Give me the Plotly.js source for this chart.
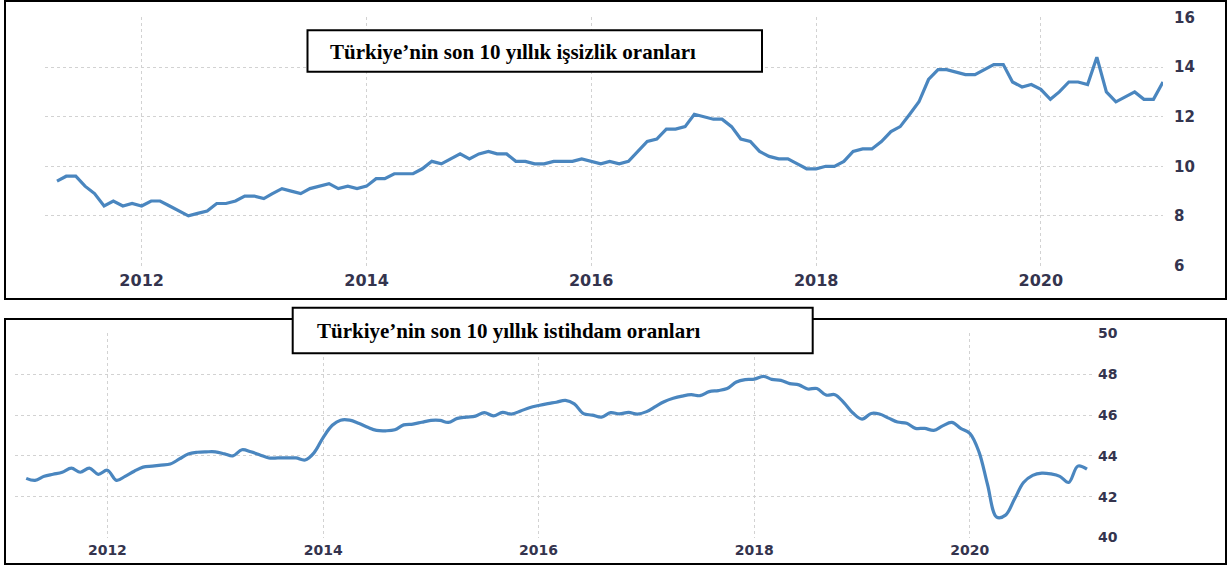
<!DOCTYPE html>
<html>
<head>
<meta charset="utf-8">
<script src="https://cdn.plot.ly/plotly-3.0.1.min.js"></script>
<style>html,body{margin:0;padding:0;background:#fff;}#chart{width:1230px;height:568px;}</style>
</head>
<body>
<div id="chart"></div>
<script>
// ---- data (monthly, Apr 2011 – Feb 2021) ----
const startYear = 2011, startMonth = 4; // April 2011
const unemployment = [
  9.4, 9.6, 9.6, 9.2, 8.9, 8.4, 8.6, 8.4, 8.5,
  8.4, 8.6, 8.6, 8.4, 8.2, 8.0, 8.1, 8.2, 8.5, 8.5, 8.6, 8.8,
  8.8, 8.7, 8.9, 9.1, 9.0, 8.9, 9.1, 9.2, 9.3, 9.1, 9.2, 9.1,
  9.2, 9.5, 9.5, 9.7, 9.7, 9.7, 9.9, 10.2, 10.1, 10.3, 10.5, 10.3,
  10.5, 10.6, 10.5, 10.5, 10.2, 10.2, 10.1, 10.1, 10.2, 10.2, 10.2, 10.3,
  10.2, 10.1, 10.2, 10.1, 10.2, 10.6, 11.0, 11.1, 11.5, 11.5, 11.6, 12.1,
  12.0, 11.9, 11.9, 11.6, 11.1, 11.0, 10.6, 10.4, 10.3, 10.3, 10.1, 9.9,
  9.9, 10.0, 10.0, 10.2, 10.6, 10.7, 10.7, 11.0, 11.4, 11.6, 12.1, 12.6,
  13.5, 13.9, 13.9, 13.8, 13.7, 13.7, 13.9, 14.1, 14.1, 13.4, 13.2, 13.3,
  13.1, 12.7, 13.0, 13.4, 13.4, 13.3, 14.4, 13.0, 12.6, 12.8, 13.0, 12.7,
  12.7, 13.4
];
const employment = [
  42.9, 42.8, 43.0, 43.1, 43.2, 43.4, 43.2, 43.4, 43.1,
  43.3, 42.8, 43.0, 43.25, 43.45, 43.5, 43.55, 43.6, 43.85, 44.1, 44.18, 44.2,
  44.2, 44.1, 44.0, 44.3, 44.2, 44.05, 43.9, 43.9, 43.9, 43.9, 43.8, 44.15,
  44.9, 45.5, 45.75, 45.75, 45.6, 45.4, 45.25, 45.23, 45.28, 45.52, 45.56, 45.65,
  45.74, 45.74, 45.64, 45.84, 45.9, 45.95, 46.12, 45.96, 46.13, 46.05, 46.2, 46.36,
  46.47, 46.56, 46.63, 46.72, 46.55, 46.07, 46.0, 45.9, 46.12, 46.06, 46.13, 46.05,
  46.17, 46.43, 46.65, 46.82, 46.93, 47.0, 46.95, 47.15, 47.2, 47.3, 47.62, 47.74,
  47.76, 47.9, 47.75, 47.7, 47.54, 47.48, 47.28, 47.3, 46.98, 47.0, 46.6, 46.1,
  45.8, 46.08, 46.05, 45.85, 45.66, 45.6, 45.35, 45.35, 45.25, 45.47, 45.64, 45.35,
  45.1, 44.2, 42.6, 41.0, 41.1, 41.9, 42.7, 43.05, 43.16, 43.12, 43.0, 42.7,
  43.5, 43.35
];
const yearTickVals = ['2012-01-01', '2014-01-01', '2016-01-01', '2018-01-01', '2020-01-01'];
const yearTickText = ['2012', '2014', '2016', '2018', '2020'];
const titleTop = 'Türkiye’nin son 10 yıllık işsizlik oranları';
const titleBottom = 'Türkiye’nin son 10 yıllık istihdam oranları';

function monthDates(n) {
  const out = [];
  for (let i = 0; i < n; i++) {
    const m = startMonth - 1 + i;
    const y = startYear + Math.floor(m / 12);
    const mm = (m % 12) + 1;
    out.push(y + '-' + (mm < 10 ? '0' : '') + mm + '-01');
  }
  return out;
}
const dates1 = monthDates(unemployment.length);
const dates2 = monthDates(employment.length);

// ---- layout helpers (pixels -> paper) ----
const W = 1230, H = 568;
const px = v => v / W;
const py = v => 1 - v / H;

const lineColor = '#4a86bf';
const gridColor = '#d2d2d2';
const tickColor = '#34344e';
const tickFamily = 'DejaVu Sans, Verdana, sans-serif';

const data = [
  { x: dates1, y: unemployment, type: 'scatter', mode: 'lines', xaxis: 'x', yaxis: 'y',
    line: { color: lineColor, width: 3.2, shape: 'linear' }, hoverinfo: 'x+y' },
  { x: dates2, y: employment, type: 'scatter', mode: 'lines', xaxis: 'x2', yaxis: 'y2',
    line: { color: lineColor, width: 3.2, shape: 'spline', smoothing: 1 }, hoverinfo: 'x+y' }
];

function xAxis(domain, range, anchor, size, standoff) {
  return {
    type: 'date', domain: domain, range: range, anchor: anchor,
    tickmode: 'array', tickvals: yearTickVals, ticktext: yearTickText,
    showgrid: true, gridcolor: gridColor, griddash: 'dot', gridwidth: 1,
    zeroline: false, showline: false, ticks: '',
    ticklabelstandoff: standoff,
    tickfont: { family: tickFamily, size: size, color: tickColor, weight: 'bold' }
  };
}
function yAxis(domain, range, anchor, size, standoff) {
  return {
    domain: domain, range: range, anchor: anchor, side: 'right', dtick: 2,
    showgrid: true, gridcolor: gridColor, griddash: 'dot', gridwidth: 1,
    zeroline: false, showline: false, ticks: '',
    ticklabelstandoff: standoff,
    tickfont: { family: tickFamily, size: size, color: tickColor, weight: 'bold' }
  };
}

const layout = {
  width: W, height: H,
  margin: { l: 0, r: 0, t: 0, b: 0, pad: 0 },
  paper_bgcolor: '#ffffff', plot_bgcolor: '#ffffff',
  showlegend: false,
  xaxis: xAxis([px(45), px(1163)], ['2011-02-21', '2021-02-01'], 'y', 16, 3),
  yaxis: yAxis([py(266), py(17)], [5.98, 16.02], 'x', 15, 10),
  xaxis2: xAxis([px(15), px(1092)], ['2011-02-22', '2021-02-18'], 'y2', 14, 2),
  yaxis2: yAxis([py(538), py(333)], [39.98, 50.02], 'x2', 14, 5),
  shapes: [
    { type: 'rect', xref: 'paper', yref: 'paper', x0: px(5), x1: px(1226), y0: py(299), y1: py(1),
      line: { color: '#000', width: 2 }, fillcolor: 'rgba(0,0,0,0)', layer: 'above' },
    { type: 'rect', xref: 'paper', yref: 'paper', x0: px(5), x1: px(1226), y0: py(564), y1: py(319),
      line: { color: '#000', width: 2 }, fillcolor: 'rgba(0,0,0,0)', layer: 'above' },
    { type: 'rect', xref: 'paper', yref: 'paper', x0: px(307.5), x1: px(762), y0: py(71.7), y1: py(30.3),
      line: { color: '#000', width: 2 }, fillcolor: '#ffffff', layer: 'above' },
    { type: 'rect', xref: 'paper', yref: 'paper', x0: px(292.7), x1: px(812.7), y0: py(353.3), y1: py(307.7),
      line: { color: '#000', width: 2 }, fillcolor: '#ffffff', layer: 'above' }
  ],
  annotations: [
    { xref: 'paper', yref: 'paper', x: px(513), y: py(52), xanchor: 'center', yanchor: 'middle',
      text: titleTop, showarrow: false,
      font: { family: 'Liberation Serif, Times New Roman, serif', size: 21, color: '#000', weight: 'bold' } },
    { xref: 'paper', yref: 'paper', x: px(508.5), y: py(331), xanchor: 'center', yanchor: 'middle',
      text: titleBottom, showarrow: false,
      font: { family: 'Liberation Serif, Times New Roman, serif', size: 21, color: '#000', weight: 'bold' } }
  ]
};

Plotly.newPlot('chart', data, layout, { displayModeBar: false, staticPlot: true });
</script>
</body>
</html>
